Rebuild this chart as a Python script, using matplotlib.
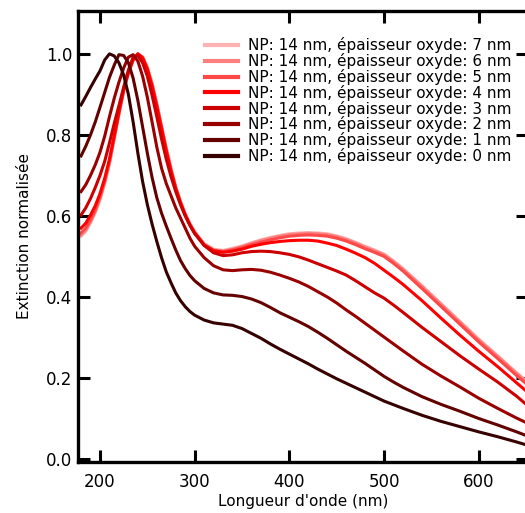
import matplotlib
matplotlib.use("Agg")
import matplotlib.pyplot as plt

# longueurs d'onde (nm)
wl = [180, 185, 190, 195, 200, 205, 210, 215, 220, 225, 230, 235, 240, 245, 250,
      255, 260, 265, 270, 275, 280, 285, 290, 295, 300, 310, 320, 330, 340, 350,
      360, 370, 380, 390, 400, 410, 420, 430, 440, 450, 460, 470, 480, 490, 500,
      510, 520, 540, 560, 580, 600, 620, 640, 650]

ext_7nm = [0.550, 0.562, 0.583, 0.608, 0.640, 0.680, 0.728, 0.788, 0.850, 0.907, 0.952, 0.984, 1.000, 0.993, 0.968,
           0.928, 0.878, 0.823, 0.768, 0.718, 0.673, 0.637, 0.607, 0.582, 0.562, 0.532, 0.518, 0.515, 0.520, 0.526,
           0.534, 0.541, 0.547, 0.552, 0.556, 0.558, 0.559, 0.558, 0.556, 0.551, 0.544, 0.535, 0.525, 0.516, 0.506,
           0.489, 0.470, 0.428, 0.384, 0.340, 0.296, 0.255, 0.213, 0.193]
ext_6nm = [0.553, 0.565, 0.586, 0.611, 0.643, 0.683, 0.731, 0.791, 0.852, 0.909, 0.953, 0.985, 1.000, 0.992, 0.966,
           0.926, 0.876, 0.821, 0.766, 0.716, 0.671, 0.635, 0.605, 0.580, 0.560, 0.530, 0.516, 0.513, 0.518, 0.524,
           0.532, 0.539, 0.545, 0.550, 0.554, 0.556, 0.557, 0.556, 0.554, 0.549, 0.542, 0.533, 0.523, 0.514, 0.504,
           0.487, 0.468, 0.426, 0.382, 0.338, 0.294, 0.253, 0.211, 0.191]
ext_5nm = [0.558, 0.570, 0.590, 0.615, 0.647, 0.687, 0.735, 0.794, 0.854, 0.910, 0.954, 0.985, 1.000, 0.991, 0.964,
           0.923, 0.873, 0.818, 0.763, 0.713, 0.669, 0.633, 0.603, 0.578, 0.558, 0.529, 0.515, 0.512, 0.516, 0.522,
           0.529, 0.535, 0.541, 0.546, 0.550, 0.552, 0.553, 0.552, 0.550, 0.545, 0.538, 0.529, 0.519, 0.510, 0.500,
           0.483, 0.464, 0.421, 0.377, 0.333, 0.289, 0.248, 0.206, 0.186]
ext_4nm = [0.570, 0.582, 0.602, 0.625, 0.655, 0.693, 0.740, 0.798, 0.857, 0.912, 0.955, 0.986, 1.000, 0.990, 0.962,
           0.920, 0.870, 0.815, 0.760, 0.710, 0.667, 0.632, 0.602, 0.577, 0.557, 0.528, 0.514, 0.510, 0.513, 0.518,
           0.525, 0.530, 0.534, 0.537, 0.539, 0.540, 0.540, 0.538, 0.533, 0.527, 0.518, 0.508, 0.497, 0.483, 0.466,
           0.449, 0.431, 0.391, 0.348, 0.306, 0.266, 0.228, 0.188, 0.168]
ext_3nm = [0.602, 0.620, 0.643, 0.670, 0.700, 0.735, 0.780, 0.828, 0.872, 0.918, 0.960, 0.992, 0.996, 0.978, 0.945,
           0.898, 0.845, 0.790, 0.740, 0.697, 0.660, 0.628, 0.600, 0.577, 0.557, 0.527, 0.509, 0.502, 0.504, 0.509,
           0.512, 0.513, 0.512, 0.509, 0.505, 0.499, 0.491, 0.482, 0.473, 0.464, 0.454, 0.440, 0.425, 0.410, 0.397,
           0.380, 0.362, 0.325, 0.290, 0.255, 0.222, 0.190, 0.155, 0.135]
ext_2nm = [0.660, 0.677, 0.700, 0.726, 0.757, 0.797, 0.845, 0.890, 0.930, 0.965, 0.992, 0.998, 0.982, 0.945, 0.893,
           0.832, 0.770, 0.718, 0.680, 0.650, 0.620, 0.595, 0.570, 0.545, 0.525, 0.497, 0.477, 0.467, 0.465, 0.467,
           0.468, 0.466, 0.461, 0.454, 0.446, 0.437, 0.426, 0.413, 0.400, 0.385, 0.368, 0.352, 0.335, 0.318, 0.301,
           0.284, 0.267, 0.234, 0.205, 0.178, 0.150, 0.125, 0.101, 0.090]
ext_1nm = [0.748, 0.772, 0.800, 0.832, 0.868, 0.905, 0.942, 0.972, 0.998, 0.996, 0.978, 0.940, 0.885, 0.820, 0.755,
           0.695, 0.645, 0.607, 0.575, 0.545, 0.516, 0.490, 0.470, 0.453, 0.440, 0.421, 0.410, 0.405, 0.404, 0.401,
           0.395, 0.386, 0.374, 0.361, 0.350, 0.339, 0.327, 0.313, 0.298, 0.282, 0.266, 0.251, 0.236, 0.220, 0.204,
           0.190, 0.177, 0.154, 0.135, 0.118, 0.100, 0.084, 0.067, 0.058]
ext_0nm = [0.874, 0.895, 0.917, 0.938, 0.958, 0.985, 1.000, 0.995, 0.978, 0.948, 0.900, 0.832, 0.755, 0.685, 0.628,
           0.580, 0.537, 0.497, 0.462, 0.435, 0.410, 0.391, 0.376, 0.364, 0.355, 0.343, 0.336, 0.333, 0.330, 0.322,
           0.310, 0.298, 0.284, 0.271, 0.259, 0.247, 0.235, 0.222, 0.210, 0.198, 0.187, 0.176, 0.165, 0.154, 0.143,
           0.134, 0.125, 0.108, 0.093, 0.080, 0.067, 0.055, 0.042, 0.035]

epaisseurs = [7, 6, 5, 4, 3, 2, 1, 0]
series = [ext_7nm, ext_6nm, ext_5nm, ext_4nm, ext_3nm, ext_2nm, ext_1nm, ext_0nm]
couleurs = ["#ffb3b3", "#ff7f7f", "#ff4848", "#ff0000", "#cc0000", "#990000", "#640000", "#360000"]

fig = plt.figure(figsize=(5.25, 5.13), dpi=100)
ax = fig.add_axes([0.1486, 0.0994, 0.8571, 0.8801])

for e, y, c in zip(epaisseurs, series, couleurs):
    ax.plot(wl, y, color=c, lw=2.2, label=f"NP: 14 nm, épaisseur oxyde: {e} nm")

ax.set_xlim(176.8, 652)
ax.set_ylim(-0.0074, 1.107)
ax.set_xticks([200, 300, 400, 500, 600])
ax.set_yticks([0.0, 0.2, 0.4, 0.6, 0.8, 1.0])
ax.set_yticklabels(["0.0", "0.2", "0.4", "0.6", "0.8", "1.0"])

for s in ax.spines.values():
    s.set_linewidth(2.4)
ax.tick_params(direction="in", length=8.5, width=2.2, top=True, right=True, labelsize=12)
ax.tick_params(axis="x", pad=8)
ax.tick_params(axis="y", pad=4)

ax.set_xlabel("Longueur d'onde (nm)", fontsize=11, labelpad=2)
ax.set_ylabel("Extinction normalisée", fontsize=11, labelpad=10)

leg = ax.legend(loc="upper left", bbox_to_anchor=(0.282, 0.941), frameon=False, fontsize=11,
                borderpad=0, borderaxespad=0, labelspacing=-0.01, handlelength=2.15, handletextpad=0.65)
for h in leg.get_lines():
    h.set_linewidth(3)

fig.savefig("out.png", dpi=100)
